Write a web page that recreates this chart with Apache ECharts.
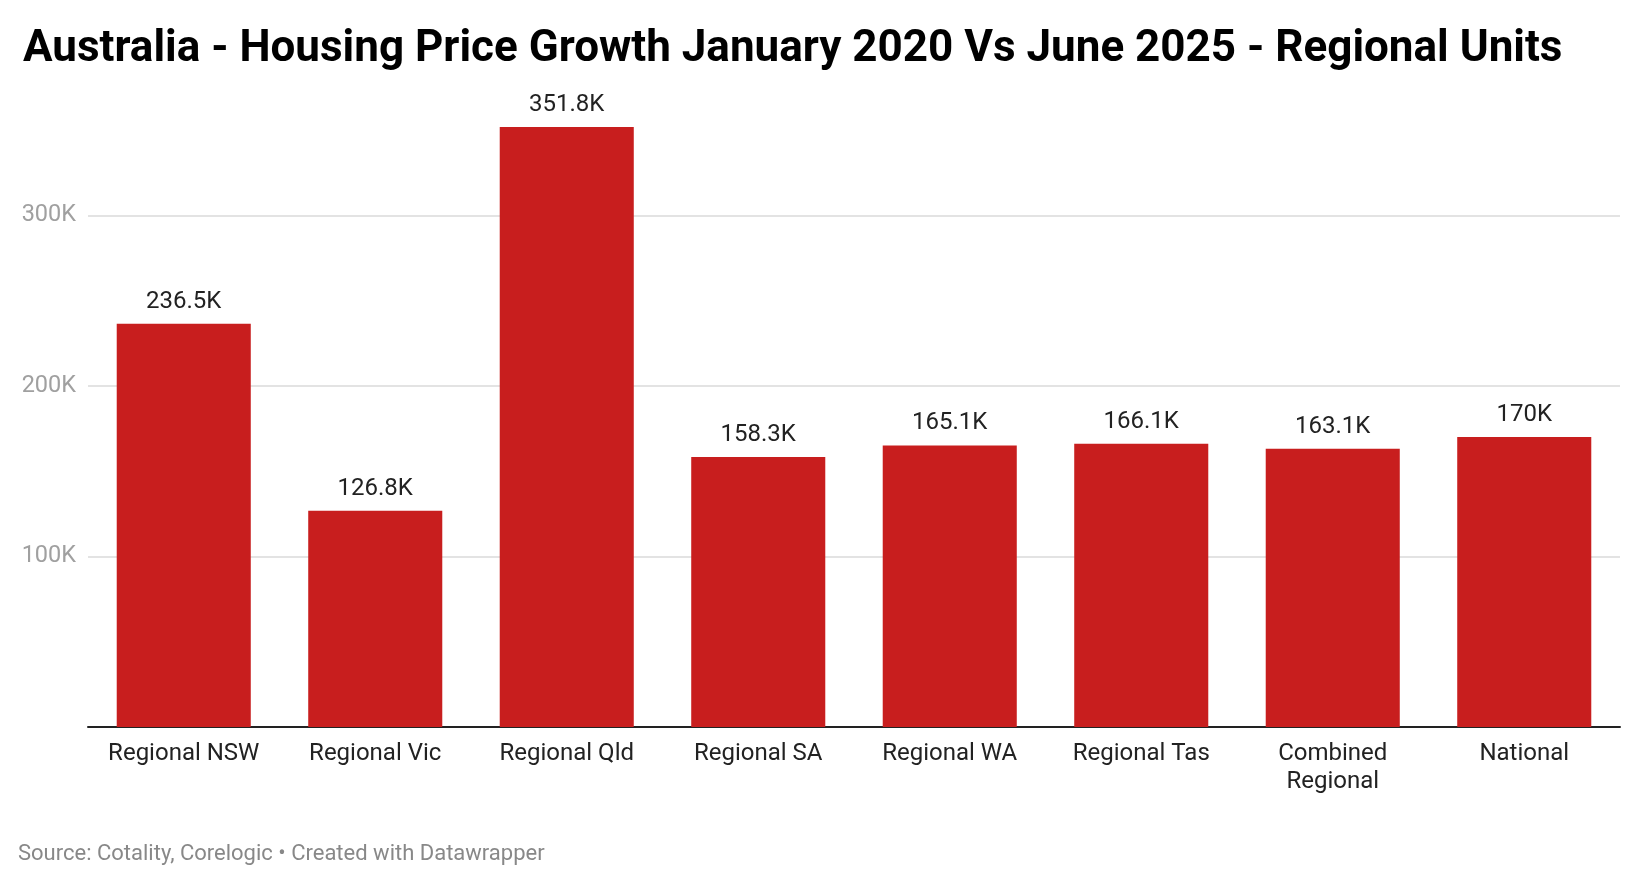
<!DOCTYPE html>
<html>
<head>
<meta charset="utf-8">
<script src="https://cdn.jsdelivr.net/npm/echarts@6/dist/echarts.min.js"></script>
<style>
html,body{margin:0;padding:0;background:#fff;}
#chart{width:1640px;height:886px;}
</style>
</head>
<body>
<div id="chart"></div>
<script>
const categories = ['Regional NSW','Regional Vic','Regional Qld','Regional SA','Regional WA','Regional Tas','Combined Regional','National'];
const growthValues = [236500,126800,351800,158300,165100,166100,163100,170000];
const yTicks = [0,100000,200000,300000];

const chart = echarts.init(document.getElementById('chart'));
const fmtK = v => {
  const k = v/1000;
  return (Math.round(k*10)/10).toString() + 'K';
};
chart.setOption({
  backgroundColor:'#fff',
  animation:false,
  title:{
    text:'Australia - Housing Price Growth January 2020 Vs June 2025 - Regional Units',
    left:18, top:23,
    textStyle:{fontFamily:'Roboto',fontWeight:'bold',fontSize:44,color:'#000'}
  },
  graphic:[{
    type:'text', left:18, top:843,
    style:{text:'Source: Cotality, Corelogic • Created with Datawrapper',font:'22px Roboto',fill:'#888'}
  }],
  grid:{left:88,right:20,top:113,bottom:159,containLabel:false},
  xAxis:{
    type:'category',
    data:categories,
    axisLine:{show:true,lineStyle:{color:'#222',width:2}},
    axisTick:{show:false},
    axisLabel:{color:'#222',fontFamily:'Roboto',fontSize:24,margin:13,lineHeight:28,interval:0,
      formatter:v=> v.length > 14 ? v.replace(' ', '\n') : v}
  },
  yAxis:{
    type:'value',
    min:0,max:360000,interval:100000,
    axisLine:{show:false},
    axisTick:{show:false},
    axisLabel:{color:'#a0a0a0',fontFamily:'Roboto',fontSize:23.5,margin:12,padding:[6,0,0,0],showMinLabel:false,showMaxLabel:false,
      formatter:v=> (yTicks.indexOf(v)>0 ? (v/1000)+'K' : '')},
    splitLine:{show:true,showMinLine:false,showMaxLine:false,lineStyle:{color:'#e3e3e3',width:2}}
  },
  series:[{
    type:'bar',
    data:growthValues,
    barCategoryGap:'30%',
    itemStyle:{color:'#c81e1e'},
    label:{show:true,position:'top',distance:10,color:'#222',fontFamily:'Roboto',fontSize:24,formatter:p=>fmtK(p.value)}
  }]
});
</script>
</body>
</html>
